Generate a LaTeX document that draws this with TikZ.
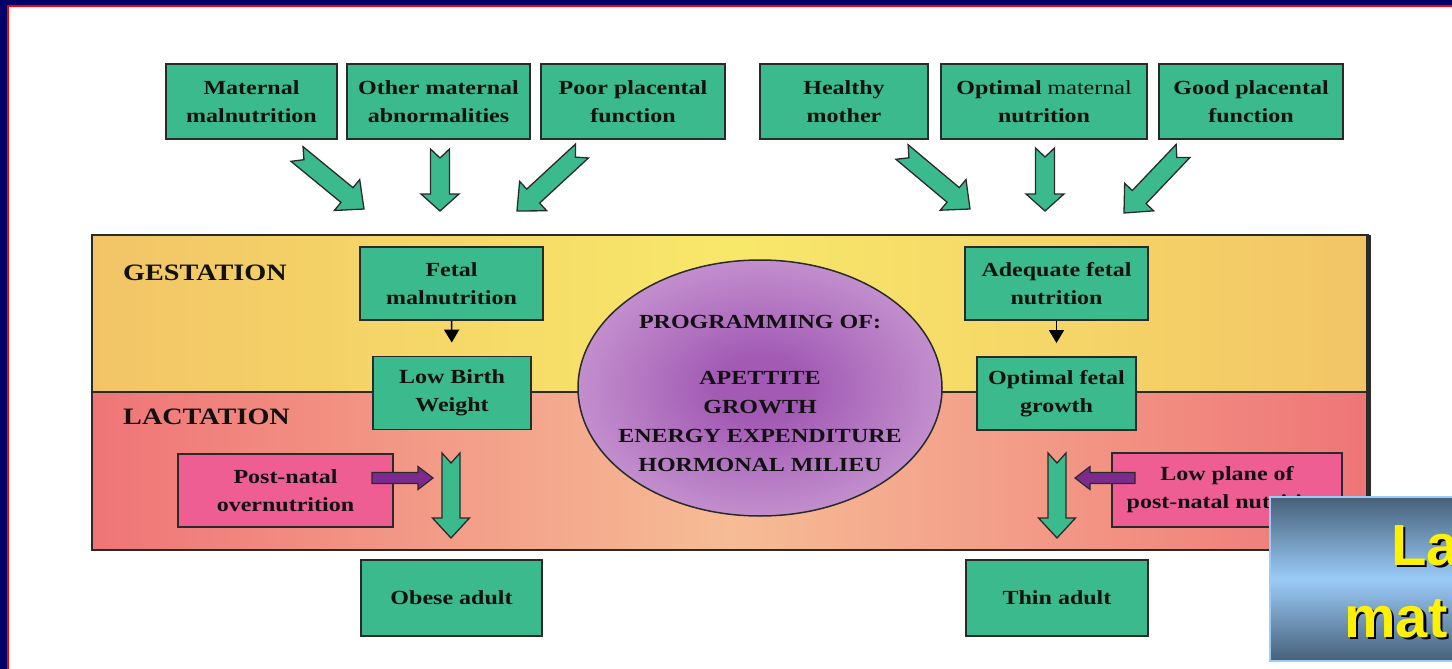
\documentclass[tikz,border=0pt]{standalone}
\usepackage{fontspec}
\usetikzlibrary{calc,shapes.geometric,arrows.meta}
\newfontfamily\dfont{Liberation Serif}[FakeStretch=1.2]
\newfontfamily\hfont{Liberation Sans}
\definecolor{navyframe}{HTML}{000066}
\definecolor{redframe}{HTML}{FF0000}
\definecolor{boxgreen}{HTML}{3BBA8E}
\definecolor{boxline}{HTML}{2A2A2A}
\definecolor{pinkbox}{HTML}{EE5E93}
\definecolor{gestE}{HTML}{F2C466}
\definecolor{gestC}{HTML}{F8E86A}
\definecolor{lactE}{HTML}{EF7577}
\definecolor{lactC}{HTML}{F6BC95}
\definecolor{progin}{HTML}{A25AB4}
\definecolor{progout}{HTML}{D8B2DE}
\definecolor{purplearr}{HTML}{7B2B8E}
\definecolor{bluedark}{HTML}{476079}
\definecolor{bluelight}{HTML}{9ACBF8}
\definecolor{blueedge}{HTML}{9CCBF5}
\definecolor{txt}{HTML}{111111}
\pgfdeclareradialshading{progshade}{\pgfpoint{0bp}{0bp}}{color(0bp)=(progin); color(6bp)=(progin); color(38bp)=(progout); color(50bp)=(progout)}
\tikzset{
  gbox/.style={draw=boxline, line width=1.8pt, fill=boxgreen, inner sep=0pt, align=center, text=txt,
    font=\dfont\bfseries\fontsize{20}{28}\selectfont},
  pbox/.style={gbox, fill=pinkbox},
  phase/.style={inner sep=0pt, anchor=west, text=txt, font=\dfont\bfseries\fontsize{23.5}{28}\selectfont},
  greenarr/.style={draw=boxline, line width=1.3pt, fill=boxgreen, line join=miter},
  purparr/.style={draw=boxline, line width=1.2pt, fill=purplearr, line join=miter},
  smallarr/.style={draw=black, line width=1.5pt, -{Triangle[width=15pt,length=13pt]}},
  yelltext/.style={inner sep=0pt, anchor=base west, text=yellow, font=\hfont\bfseries\fontsize{58}{60}\selectfont},
  shadowtext/.style={yelltext, text=black}
}
% #1 style, #2 tail, #3 tip, #4 shaft half width, #5 head half width, #6 head length, #7 notch
\newcommand\fatarr[7]{%
  \path ($(#3)!#6!(#2)$) coordinate (fa-h) ($(#2)!#7!(#3)$) coordinate (fa-n);
  \draw[#1] ($(#2)!#4!90:(#3)$) -- ($(fa-h)!#4!-90:(#2)$) -- ($(fa-h)!#5!-90:(#2)$) -- (#3)
    -- ($(fa-h)!#5!90:(#2)$) -- ($(fa-h)!#4!90:(#2)$) -- ($(#2)!#4!-90:(#3)$) -- (fa-n) -- cycle;}
\begin{document}
\begin{tikzpicture}[x=1pt,y=-1pt]
\useasboundingbox (0,0) rectangle (1452,669);
\fill[white] (0,0) rectangle (1452,669);

% band
\fill[left color=gestE, right color=gestE, middle color=gestC] (92,235) rectangle (1368,392);
\fill[left color=lactE, right color=lactE, middle color=lactC] (92,392) rectangle (1368,550);
\draw[boxline, line width=1.5pt] (92,235) rectangle (1368,550);
\draw[boxline, line width=1.2pt] (92,392) -- (1368,392);
\draw[boxline, line width=5pt] (1368,235) -- (1368,550);

\node[phase] (gest) at (123,273) {GESTATION};
\node[phase] (lact) at (123,417) {LACTATION};

% top boxes
\node[gbox, minimum width=171pt, minimum height=75pt] (mm) at (251.5,101.5) {Maternal\\malnutrition};
\node[gbox, minimum width=183pt, minimum height=75pt] (om) at (438.5,101.5) {Other maternal\\abnormalities};
\node[gbox, minimum width=184pt, minimum height=75pt] (pp) at (633,101.5) {Poor placental\\function};
\node[gbox, minimum width=168pt, minimum height=75pt] (hm) at (844,101.5) {Healthy\\mother};
\node[gbox, minimum width=206pt, minimum height=75pt] (on) at (1044,101.5) {Optimal {\mdseries maternal}\\nutrition};
\node[gbox, minimum width=184pt, minimum height=75pt] (gp) at (1251,101.5) {Good placental\\function};

% fat arrows at top
\coordinate (a1t) at (297,154); \coordinate (a1h) at (364,209);
\coordinate (a2t) at (440,149); \coordinate (a2h) at (440,211);
\coordinate (a3t) at (582,151); \coordinate (a3h) at (517,211);
\coordinate (b1t) at (902,152); \coordinate (b1h) at (970,209);
\coordinate (b2t) at (1045,148); \coordinate (b2h) at (1045,211);
\coordinate (b3t) at (1183,151); \coordinate (b3h) at (1124,213);
\fatarr{greenarr}{a1t}{a1h}{9.5pt}{20pt}{22pt}{9pt}
\fatarr{greenarr}{a2t}{a2h}{9.5pt}{19pt}{17pt}{9pt}
\fatarr{greenarr}{a3t}{a3h}{9.5pt}{20pt}{22pt}{9pt}
\fatarr{greenarr}{b1t}{b1h}{9.5pt}{20pt}{22pt}{9pt}
\fatarr{greenarr}{b2t}{b2h}{9.5pt}{19pt}{17pt}{9pt}
\fatarr{greenarr}{b3t}{b3h}{9.5pt}{20pt}{22pt}{9pt}

% ellipse
\node[ellipse, draw=boxline, line width=1.5pt, shading=progshade, minimum width=364pt, minimum height=256pt, inner sep=0pt] (prog) at (760,388) {};
\node[align=center, inner sep=0pt, text=txt, font=\dfont\bfseries\fontsize{20}{29}\selectfont] (progtxt) at (760,393)
  {PROGRAMMING OF:\\[27pt]APETTITE\\GROWTH\\ENERGY EXPENDITURE\\HORMONAL MILIEU};

% left column
\node[gbox, minimum width=183pt, minimum height=73pt] (fm) at (451.5,283.5) {Fetal\\malnutrition};
\node[gbox, minimum width=158pt, minimum height=73pt] (lbw) at (452,393) {Low Birth\\Weight};
\draw[smallarr, shorten >=13pt] (fm.south) -- (lbw.north);
\node[pbox, minimum width=215pt, minimum height=73pt] (pno) at (285.5,490.5) {Post-natal\\overnutrition};
\node[gbox, minimum width=181pt, minimum height=76pt] (obese) at (451.5,598) {Obese adult};
\coordinate (l1t) at (451,453); \coordinate (l1h) at (451,538);
\fatarr{greenarr}{l1t}{l1h}{9pt}{18.5pt}{20pt}{10pt}
\coordinate (p1t) at (372,478); \coordinate (p1h) at (433,478);
\fatarr{purparr}{p1t}{p1h}{5.5pt}{11.5pt}{15pt}{0pt}

% right column
\node[gbox, minimum width=183pt, minimum height=73pt] (afn) at (1056.5,283.5) {Adequate fetal\\nutrition};
\node[gbox, minimum width=159pt, minimum height=73pt] (ofg) at (1056.5,393.5) {Optimal fetal\\growth};
\draw[smallarr, shorten >=13pt] (afn.south) -- (ofg.north);
\node[pbox, minimum width=230pt, minimum height=74pt] (lpn) at (1227,490) {Low plane of\\post-natal nutrition};
\node[gbox, minimum width=182pt, minimum height=76pt] (thin) at (1057,598) {Thin adult};
\coordinate (r1t) at (1057,453); \coordinate (r1h) at (1057,538);
\fatarr{greenarr}{r1t}{r1h}{9pt}{18.5pt}{20pt}{10pt}
\coordinate (p2t) at (1135,478); \coordinate (p2h) at (1075,478);
\fatarr{purparr}{p2t}{p2h}{5.5pt}{11.5pt}{15pt}{0pt}

% blue title box
\fill[top color=bluedark, bottom color=bluedark, middle color=bluelight] (1270,497) rectangle (1460,661);
\draw[blueedge, line width=2pt] (1460,497) -- (1270,497) -- (1270,661) -- (1460,661);
\node[shadowtext] (la-s) at (1393.5,567.5) {La};
\node[yelltext] (la) at (1391,565) {La};
\node[shadowtext] (mat-s) at (1346.5,639.5) {mat};
\node[yelltext] (mat) at (1344,637) {mat};

% frame
\fill[navyframe] (0,0) rectangle (1452,5);
\fill[navyframe] (0,0) rectangle (7,669);
\fill[redframe] (7,5) rectangle (1452,7);
\fill[redframe] (7,5) rectangle (9,669);
\end{tikzpicture}
\end{document}
